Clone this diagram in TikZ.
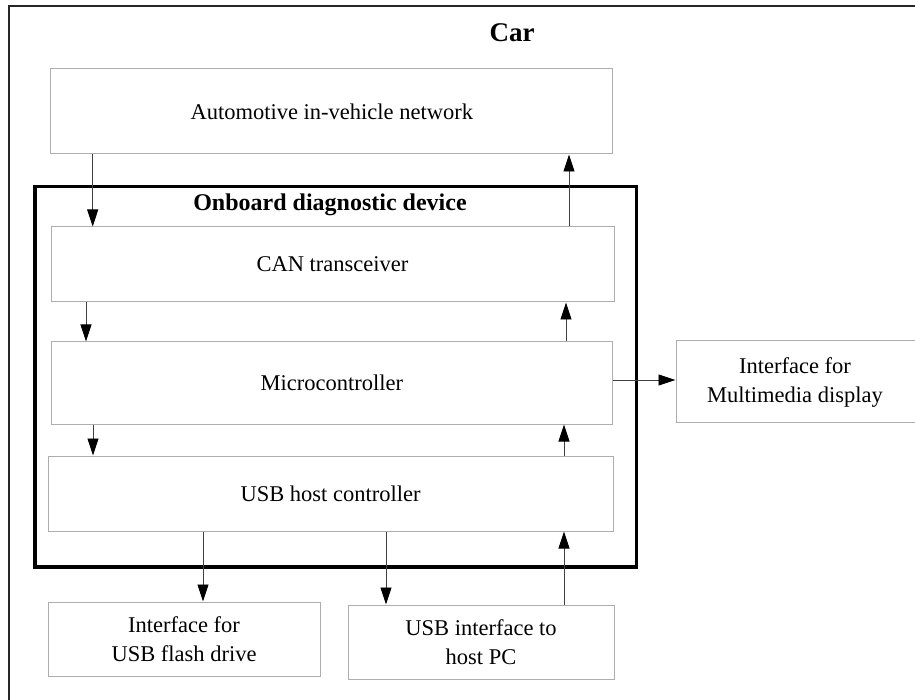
\documentclass[tikz,border=0pt]{standalone}
\usepackage{fontspec}
\setmainfont{Liberation Serif}
\usetikzlibrary{arrows.meta}
\begin{document}
\begin{tikzpicture}[x=1pt,y=-1pt,
  blk/.style={draw=black!32,line width=1pt,rectangle,inner sep=0pt,align=center,
    font=\fontsize{22.5}{29}\selectfont},
  txt/.style={inner sep=0pt,align=center,font=\fontsize{22.5}{29}\selectfont},
  arr/.style={draw=black!75,line width=0.9pt,-{Triangle[length=17pt,width=11pt,color=black]}},
  lbl/.style={inner sep=0pt,font=\fontsize{24}{28}\selectfont\bfseries}]
\useasboundingbox (0,0) rectangle (915,700);
% outer car box (extends beyond the picture)
\node[draw=black!85,line width=2pt,rectangle,inner sep=0pt,minimum width=930pt,minimum height=720pt] (car) at (474,366.5) {};
\node[lbl,font=\fontsize{27}{30}\selectfont\bfseries] (cartxt) at (512,33) {Car};
% onboard device box
\node[draw=black,line width=3.3pt,rectangle,inner sep=0pt,minimum width=601.5pt,minimum height=380.5pt] (ob) at (335.75,376.75) {};
\node[lbl] (obtxt) at (330,205) {Onboard diagnostic device};
% blocks
\node[blk,minimum width=561.7pt,minimum height=85pt] (auto) at (331.8,111.5) {Automotive in-vehicle network};
\node[blk,minimum width=563pt,minimum height=75pt] (can) at (332.5,264.5) {CAN transceiver};
\node[blk,minimum width=561.5pt,minimum height=82pt] (mcu) at (331.8,383) {Microcontroller};
\node[blk,minimum width=565pt,minimum height=75pt] (usb) at (330.5,493.5) {USB host controller};
\node[blk,minimum width=272pt,minimum height=74pt] (flash) at (184,639) {Interface for\\USB flash drive};
\node[blk,minimum width=266pt,minimum height=74pt] (pc) at (481,642) {USB interface to\\host PC};
\node[blk,minimum width=254pt,minimum height=81pt] (disp) at (803,381.5) {};
\node[txt] (disptxt) at (795,383) {Interface for\\Multimedia display};
% guide coordinates
\coordinate (x1) at (92.7,0);
\coordinate (x2) at (569,0);
\coordinate (x3) at (86,0);
\coordinate (x4) at (566,0);
\coordinate (x5) at (93,0);
\coordinate (x6) at (564,0);
\coordinate (x7) at (203,0);
\coordinate (x8) at (386,0);
\coordinate (y1) at (0,380);
% connectors
\draw[arr] (auto.south -| x1) -- (can.north -| x1);
\draw[arr] (can.north -| x2) -- (auto.south -| x2);
\draw[arr] (can.south -| x3) -- (mcu.north -| x3);
\draw[arr] (mcu.north -| x4) -- (can.south -| x4);
\draw[arr] (mcu.east |- y1) -- (disp.west |- y1);
\draw[arr] (mcu.south -| x5) -- (usb.north -| x5);
\draw[arr] (usb.north -| x6) -- (mcu.south -| x6);
\draw[arr] (usb.south -| x7) -- (flash.north -| x7);
\draw[arr] (usb.south -| x8) -- (pc.north -| x8);
\draw[arr] (pc.north -| x6) -- (usb.south -| x6);
\end{tikzpicture}
\end{document}
